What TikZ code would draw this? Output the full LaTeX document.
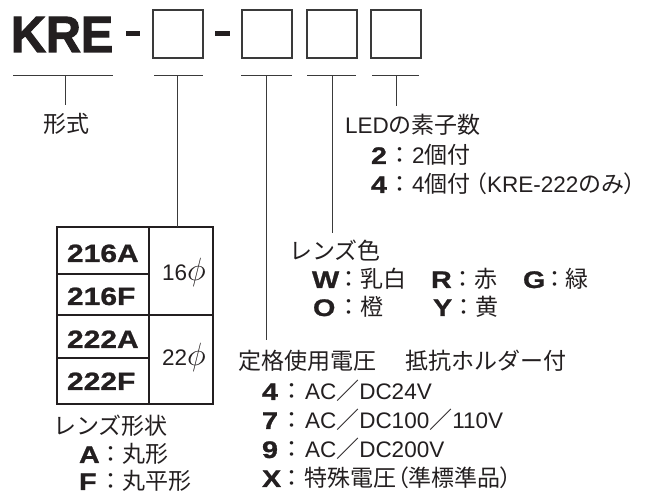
\documentclass[tikz,border=0pt]{standalone}
\usepackage{fontspec}
\setmainfont{Liberation Sans}
\newfontfamily\cjk{Noto Sans CJK JP}
\newfontfamily\cjkp[RawFeature=+palt]{Noto Sans CJK JP}
\newfontfamily\keyf[FakeStretch=1.2,FakeBold=1]{Liberation Sans Bold}
\newfontfamily\kref[FakeStretch=0.95,FakeBold=2]{Liberation Sans Bold}
\definecolor{ink}{HTML}{231F20}
\definecolor{lineC}{HTML}{3A3A3A}
\newcommand\J[1]{{\cjk\fontsize{23}{27}\selectfont #1}}
\newcommand\Jp[1]{{\cjkp\fontsize{23}{27}\selectfont #1}}
\newcommand\K[1]{{\keyf\fontsize{24}{28}\selectfont #1}}
\newcommand\kv[4]{\makebox[#1pt][l]{\K{#2}}\makebox[#3pt]{\J{：}}#4}
\newcommand\phisym{\scalebox{1.55}{$\phi$}}
\begin{document}
\begin{tikzpicture}[x=1pt,y=-1pt,inner sep=0pt,outer sep=0pt,
  ln/.style={draw=lineC,line width=1pt},
  slot/.style={draw=lineC,line width=1.3pt,minimum width=50pt,minimum height=48pt,anchor=north west},
  txt/.style={anchor=base west,text=ink,font=\fontsize{22.5}{27}\selectfont},
  tkey/.style={anchor=base west,text=ink,font=\keyf\fontsize{25}{28}\selectfont},
  tdia/.style={anchor=base,text=ink,font=\fontsize{22.5}{27}\selectfont}]
\useasboundingbox (0,0) rectangle (649,494);
% header
\node[anchor=base west,text=ink,font=\kref\fontsize{51}{56}\selectfont] (kre) at (11,52) {KRE};
\fill[ink] (126,31.5) rectangle (140,36.5);
\fill[ink] (215,31.5) rectangle (230,36.5);
\node[slot] (b1) at (153,10) {};
\node[slot] (b2) at (242,10) {};
\node[slot] (b3) at (307,10) {};
\node[slot] (b4) at (371,10) {};
% bracket coordinates
\coordinate (h0a) at (13,76); \coordinate (h0b) at (113,76);
\coordinate (h1a) at (154,76); \coordinate (h1b) at (203,76);
\coordinate (h2a) at (241,76); \coordinate (h2b) at (292,76);
\coordinate (h3a) at (307,76); \coordinate (h3b) at (356,76);
\coordinate (h4a) at (372,76); \coordinate (h4b) at (419,76);
\coordinate (v0) at (65,76); \coordinate (v0e) at (65,105);
\coordinate (v1) at (177,76);
\coordinate (v2) at (266,76); \coordinate (v2e) at (266,340);
\coordinate (v3) at (332,76); \coordinate (v3e) at (332,233);
\coordinate (v4) at (396,76); \coordinate (v4e) at (396,106);
% table
\node[draw=ink,line width=2.4pt,minimum width=156pt,minimum height=177pt,anchor=north west] (tbl) at (57,227) {};
\draw[draw=ink,line width=1.1pt] (149,227) -- (149,404);
\draw[draw=ink,line width=1.1pt] (57,315) -- (213,315);
\draw[draw=ink,line width=1.1pt] (57,274) -- (149,274);
\draw[draw=ink,line width=1.1pt] (57,358) -- (149,358);
\node[tkey] (t1) at (67,262) {216A};
\node[tkey] (t2) at (67,305) {216F};
\node[tkey] (t3) at (67,348) {222A};
\node[tkey] (t4) at (67,390) {222F};
\node[tdia] (d1) at (184,281) {16\phisym};
\node[tdia] (d2) at (184,366) {22\phisym};
% connectors
\draw[ln] (h0a) -- (h0b); \draw[ln] (h1a) -- (h1b); \draw[ln] (h2a) -- (h2b);
\draw[ln] (h3a) -- (h3b); \draw[ln] (h4a) -- (h4b);
\draw[ln] (v0) -- (v0e);
\draw[ln] (v1) -- (v1 |- tbl.north);
\draw[ln] (v2) -- (v2e);
\draw[ln] (v3) -- (v3e);
\draw[ln] (v4) -- (v4e);
% texts
\node[txt] (keishiki) at (43,133) {\J{形式}};
\node[txt] (led) at (345,134) {LED\J{の素子数}};
\node[txt] (led2) at (371,164) {\kv{17}{2}{24}{2\J{個付}}};
\node[txt] (led4) at (371,193) {\kv{17}{4}{24}{4\J{個付}\hspace{5pt}\Jp{（}KRE-222\J{のみ}\Jp{）}}};
\node[txt] (col) at (289,260) {\J{レンズ色}};
\node[txt] (cw) at (312,288) {\kv{25}{W}{23}{\J{乳白}}};
\node[txt] (cr) at (431,288) {\kv{20}{R}{24}{\J{赤}}};
\node[txt] (cg) at (523,288) {\kv{21}{G}{21}{\J{緑}}};
\node[txt] (co) at (313,316) {\kv{25}{O}{22}{\J{橙}}};
\node[txt] (cy) at (433,316) {\kv{19}{Y}{23}{\J{黄}}};
\node[txt] (volt) at (238,370) {\J{定格使用電圧}\hspace{30pt}\J{抵抗ホルダー付}};
\node[txt] (v4t) at (262,400) {\kv{17}{4}{26}{AC\J{／}DC24V}};
\node[txt] (v7t) at (262,429) {\kv{17}{7}{26}{AC\J{／}DC100\J{／}110V}};
\node[txt] (v9t) at (262,458) {\kv{17}{9}{26}{AC\J{／}DC200V}};
\node[txt] (vxt) at (262,487) {\kv{17}{X}{26}{\J{特殊電圧}\Jp{（}\J{準標準品}\Jp{）}}};
\node[txt] (shape) at (53,435) {\J{レンズ形状}};
\node[txt] (sa) at (79,463) {\kv{20}{A}{24}{\J{丸形}}};
\node[txt] (sf) at (79,490) {\kv{20}{F}{24}{\J{丸平形}}};
\end{tikzpicture}
\end{document}
